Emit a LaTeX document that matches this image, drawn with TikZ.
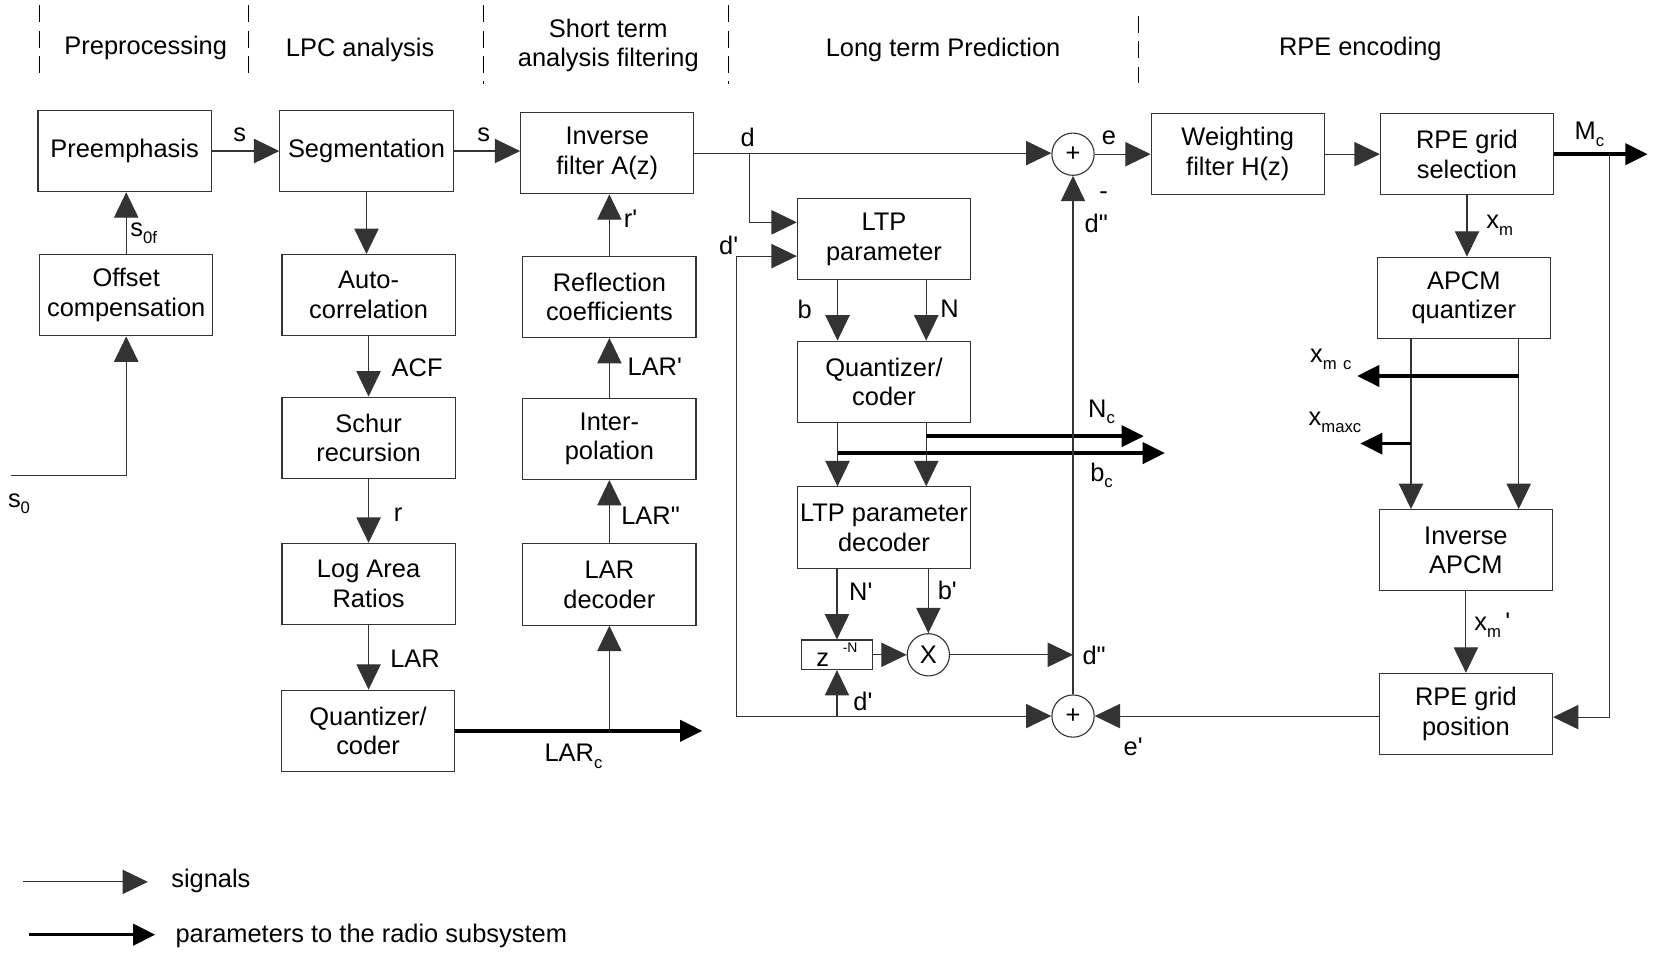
\documentclass[tikz,border=0pt]{standalone}
\usepackage{fontspec}
\setmainfont{Liberation Sans}
\usetikzlibrary{arrows.meta,calc,positioning}

\newcommand{\lowsub}[1]{\raisebox{-0.5ex}{\fontsize{9}{9}\selectfont #1}}

\tikzset{
  block/.style={draw=black!80, line width=0.6pt, minimum width=32.8mm, minimum height=15.4mm, align=center, inner sep=0pt},
  sumnode/.style={circle, draw=black!80, line width=0.6pt, minimum size=8mm, inner sep=0pt},
  sig/.style={line width=0.6pt, draw=black!80, -{Triangle[length=4.8mm,width=4.6mm]}},
  par/.style={line width=1.9pt, -{Triangle[length=4.2mm,width=4mm]}},
  sep/.style={line width=0.6pt, dash pattern=on 3.2mm off 1.6mm}
}

\begin{document}
\begin{tikzpicture}[x=0.2mm, y=-0.2mm]
		\tikzstyle{every node}=[font=\fontsize{13.7}{16}\selectfont]
		\useasboundingbox (0,0) rectangle (1568,903);
		% phases
		\node (tpre) at (138,45) {Preprocessing};
		\node (tlpc) at (341,47) {LPC analysis};
		\node [align=center] (tsta) at (576,43) {Short term\\analysis filtering};
		\node (tltp) at (893,47) {Long term Prediction};
		\node (trpe) at (1288,46) {RPE encoding};
		\foreach \x/\a/\b in {37/5/77, 235/5/77, 458/5/80, 690/5/80, 1078/15/86}
			\draw [sep] (\x,\a) -- (\x,\b);
		% blocks
		\node [block] (preemph) at (118,143) {Preemphasis};
		\node [block] (offset) at (119.5,279.5) {Offset\\compensation};
		\node [block] (segm) at (347,143) {Segmentation};
		\node [block] (acorr) at (349,279.5) {Auto-\\correlation};
		\node [block] (schur) at (349,414.5) {Schur\\recursion};
		\node [block] (logar) at (349,553) {Log Area\\Ratios};
		\node [block] (qlar) at (348.5,692) {Quantizer/\\coder};
		\node [block] (invflt) at (575,145) {Inverse\\filter A(z)};
		\node [block] (reflc) at (577,281) {Reflection\\coefficients};
		\node [block] (interp) at (577,415.5) {Inter-\\polation};
		\node [block] (lardec) at (577,553.5) {LAR\\decoder};
		\node [block] (ltppar) at (837,226.5) {LTP\\parameter};
		\node [block] (qltp) at (837,361.5) {Quantizer/\\coder};
		\node [block] (ltpdec) at (837,499.5) {LTP parameter\\decoder};
		\node [block, minimum width=13.4mm, minimum height=5.6mm] (delay) at (792.5,620) {z\hspace{2.6mm}\raisebox{1.1ex}{\fontsize{7.5}{8}\selectfont -N}};
		\node [sumnode] (mult) at (879,620) {X};
		\node [sumnode] (sumtop) at (1016,146) {+};
		\node [sumnode] (sumbot) at (1016,678) {+};
		\node [block] (wflt) at (1172,146) {Weighting\\filter H(z)};
		\node [block] (gridsel) at (1389,146) {RPE grid\\selection};
		\node [block] (apcm) at (1386,282) {APCM\\quantizer};
		\node [block] (iapcm) at (1388,521) {Inverse\\APCM};
		\node [block] (gridpos) at (1388,676) {RPE grid\\position};
		% preprocessing and LPC analysis
		\coordinate (sin) at (10,450);
		\draw [sig] (sin) -| (offset.south);
		\draw [sig] (offset.north) -- (offset.north |- preemph.south);
		\draw [sig] (preemph.east) -- (segm.west);
		\draw [sig] (segm.east) -- (segm.east -| invflt.west);
		\draw [sig] (segm.south) -- (segm.south |- acorr.north);
		\draw [sig] (acorr.south) -- (acorr.south |- schur.north);
		\draw [sig] (schur.south) -- (schur.south |- logar.north);
		\draw [sig] (logar.south) -- (logar.south |- qlar.north);
		\coordinate (larout) at (665,692);
		\draw [par] (qlar.east) -- (larout);
		\draw [sig] (lardec.south |- qlar.east) -- (lardec.south);
		\draw [sig] (lardec.north) -- (interp.south);
		\draw [sig] (interp.north) -- (reflc.south);
		\draw [sig] (reflc.north) -- (reflc.north |- invflt.south);
		% long term prediction
		\draw [sig] (invflt.east) -- (invflt.east -| sumtop.west);
		\coordinate (dtap) at (710,146);
		\draw [sig] (dtap) |- ($(ltppar.west)+(0,-16)$);
		\coordinate (dloop) at (697,678);
		\draw [sig] (dloop) |- ($(ltppar.west)+(0,16)$);
		\draw [sig] (dloop) -- (sumbot.west);
		\draw [sig] (dloop -| delay.south) -- (delay.south);
		\coordinate (pb) at ($(ltppar.south)+(-44,0)$);
		\coordinate (pN) at ($(ltppar.south)+(40,0)$);
		\draw [sig] (pb) -- (pb |- qltp.north);
		\draw [sig] (pN) -- (pN |- qltp.north);
		\coordinate (qb) at ($(qltp.south)+(-44,0)$);
		\coordinate (qN) at ($(qltp.south)+(40,0)$);
		\draw [sig] (qb) -- (qb |- ltpdec.north);
		\draw [sig] (qN) -- (qN |- ltpdec.north);
		\coordinate (ncout) at (1083,413);
		\coordinate (bcout) at (1103,429);
		\draw [par] (qN |- ncout) -- (ncout);
		\draw [par] (qb |- bcout) -- (bcout);
		\draw [sig] (delay.north |- ltpdec.south) -- (delay.north);
		\draw [sig] (mult.north |- ltpdec.south) -- (mult.north);
		\draw [sig] (delay.east) -- (mult.west);
		\draw [sig] (mult.east) -- (mult.east -| sumbot.north);
		\draw [sig] (sumbot.north) -- (sumtop.south);
		% RPE encoding
		\draw [sig] (sumtop.east) -- (wflt.west);
		\draw [sig] (wflt.east) -- (gridsel.west);
		\coordinate (mcout) at (1560,146);
		\draw [par] (gridsel.east) -- (mcout);
		\coordinate (mctap) at (1524,146);
		\draw [sig] (mctap) |- ($(gridpos.east)+(0,3)$);
		\draw [sig] (gridsel.south) -- (gridsel.south |- apcm.north);
		\coordinate (aL) at ($(apcm.south)+(-50,0)$);
		\coordinate (aR) at ($(apcm.south)+(52,0)$);
		\draw [sig] (aL) -- (aL |- iapcm.north);
		\draw [sig] (aR) -- (aR |- iapcm.north);
		\coordinate (xmcout) at (1285,356);
		\coordinate (xmaxout) at (1288,420);
		\draw [par] (aR |- xmcout) -- (xmcout);
		\draw [par] (aL |- xmaxout) -- (xmaxout);
		\draw [sig] (iapcm.south) -- (iapcm.south |- gridpos.north);
		\draw [sig] (gridpos.west |- sumbot.east) -- (sumbot.east);
		% labels
		\node (ls0) at (18,477) {s\lowsub{0}};
		\node (ls0f) at (136,221) {s\lowsub{0f}};
		\node (ls1) at (227,128) {s};
		\node (ls2) at (458,128) {s};
		\node (lacf) at (395,348) {ACF};
		\node (lr) at (377,487) {r};
		\node (llar) at (393,624) {LAR};
		\node (llarc) at (543,716) {LAR\lowsub{c}};
		\node (llarpp) at (616,488) {LAR\textquotedbl};
		\node (llarp) at (620,347) {LAR\textquotesingle};
		\node (lrp) at (597,207) {r\textquotesingle};
		\node (ld) at (708,130) {d};
		\node (ldp) at (690,232) {d\textquotesingle};
		\node (lb) at (762,293) {b};
		\node (lN) at (899,292) {N};
		\node (lNc) at (1043,390) {N\lowsub{c}};
		\node (lbc) at (1043,450) {b\lowsub{c}};
		\node (lNp) at (815,560) {N\textquotesingle};
		\node (lbp) at (897,559) {b\textquotesingle};
		\node (lminus) at (1045,185) {-};
		\node (ldpp) at (1038,212) {d\textquotedbl};
		\node (ldpp2) at (1036,621) {d\textquotedbl};
		\node (ldp2) at (817,664) {d\textquotesingle};
		\node (le) at (1050,130) {e};
		\node (lep) at (1073,707) {e\textquotesingle};
		\node (lMc) at (1505,127) {M\lowsub{c}};
		\node (lxm) at (1420,213) {x\lowsub{m}};
		\node (lxmc) at (1260,340) {x\lowsub{m\hspace{1.2mm}c}};
		\node (lxmax) at (1264,400) {x\lowsub{maxc}};
		\node (lxmp) at (1413,592) {x\lowsub{m}\,\textquotesingle};
		% legend
		\coordinate (lgA) at (22,835);
		\coordinate (lgB) at (140,835);
		\draw [sig] (lgA) -- (lgB);
		\node [anchor=west] (lgsig) at (156,834) {signals};
		\coordinate (lgC) at (27,885);
		\coordinate (lgD) at (147,885);
		\draw [par] (lgC) -- (lgD);
		\node [anchor=west] (lgpar) at (160,886) {parameters to the radio subsystem};
\end{tikzpicture}
\end{document}
